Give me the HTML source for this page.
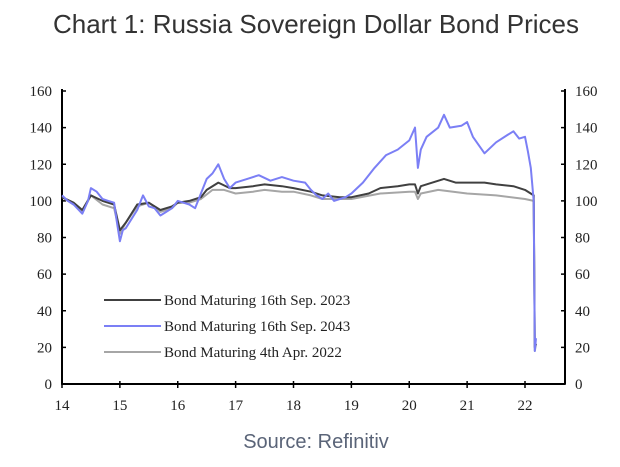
<!DOCTYPE html>
<html><head><meta charset="utf-8"><style>
body{margin:0;background:#fff;width:620px;height:462px;overflow:hidden}
svg text{font-family:"Liberation Serif",serif}
</style></head><body>
<svg id="c" width="620" height="462">
<text x="316" y="33" text-anchor="middle" style="font-family:'Liberation Sans',sans-serif;font-size:26px;fill:#333">Chart 1: Russia Sovereign Dollar Bond Prices</text>
<text x="316" y="448" text-anchor="middle" style="font-family:'Liberation Sans',sans-serif;font-size:20px;fill:#5a6478">Source: Refinitiv</text>
</svg>
<script>
const yTicks=[0,20,40,60,80,100,120,140,160];
const xTicks=[14,15,16,17,18,19,20,21,22];
const blueT=[14.0,14.1,14.2,14.35,14.45,14.5,14.6,14.7,14.8,14.9,14.95,15.0,15.05,15.1,15.2,15.3,15.4,15.5,15.6,15.7,15.8,15.9,16.0,16.1,16.2,16.3,16.4,16.5,16.6,16.7,16.8,16.9,17.0,17.2,17.4,17.6,17.8,18.0,18.2,18.3,18.4,18.5,18.6,18.7,18.8,18.9,19.0,19.2,19.4,19.6,19.8,20.0,20.1,20.15,20.2,20.3,20.5,20.6,20.7,20.9,21.0,21.1,21.3,21.5,21.7,21.8,21.9,22.0,22.05,22.1,22.15,22.17,22.19];
const blueV=[103,100,98,93,100,107,105,101,100,99,88,78,84,85,90,95,103,97,96,92,94,96,100,99,98,96,104,112,115,120,112,107,110,112,114,111,113,111,110,106,103,101,104,100,101,102,104,110,118,125,128,133,140,118,128,135,140,147,140,141,143,135,126,132,136,138,134,135,127,118,100,18,25];
const blackT=[14.0,14.2,14.35,14.5,14.7,14.9,15.0,15.1,15.3,15.5,15.7,15.9,16.0,16.2,16.4,16.5,16.7,16.9,17.0,17.3,17.5,17.8,18.0,18.3,18.5,18.8,19.0,19.3,19.5,19.8,20.0,20.1,20.15,20.2,20.4,20.6,20.8,21.0,21.3,21.5,21.8,22.0,22.15,22.17,22.19];
const blackV=[102,99,95,103,100,98,84,88,98,99,95,97,99,100,102,106,110,107,107,108,109,108,107,105,103,102,102,104,107,108,109,109,104,108,110,112,110,110,110,109,108,106,103,20,22];
const greyT=[14.0,14.2,14.35,14.5,14.7,14.9,15.0,15.1,15.3,15.5,15.7,15.9,16.0,16.2,16.4,16.6,16.8,17.0,17.3,17.5,17.8,18.0,18.3,18.5,18.8,19.0,19.5,20.0,20.1,20.15,20.2,20.5,21.0,21.5,22.0,22.15,22.17,22.19];
const greyV=[102,98,94,103,98,96,82,88,97,99,94,96,99,99,101,106,106,104,105,106,105,105,103,101,101,101,104,105,105,101,104,106,104,103,101,100,18,22];
const L=62,R=565,T=91,B=384;
const xs=v=>L+(v-14)*((525-62)/8);
const ys=v=>B-v*((B-T)/160);
const svg=document.getElementById('c');
const NS='http://www.w3.org/2000/svg';
function mk(tag,attrs){const e=document.createElementNS(NS,tag);for(const k in attrs)e.setAttribute(k,attrs[k]);svg.appendChild(e);return e;}
let a=mk('line',{x1:L,y1:T-2,x2:L,y2:B,stroke:'#000','stroke-width':2});

a=mk('line',{x1:R,y1:T-2,x2:R,y2:B,stroke:'#000','stroke-width':2});

a=mk('line',{x1:L,y1:B,x2:R,y2:B,stroke:'#000','stroke-width':2});

yTicks.forEach(v=>{
  const y=ys(v);
  let t=mk('line',{x1:L-1,y1:y,x2:L+4,y2:y,stroke:'#000','stroke-width':1.5});
  
  t=mk('line',{x1:R-4,y1:y,x2:R+1,y2:y,stroke:'#000','stroke-width':1.5});
  
  let tx=mk('text',{x:L-10,y:y+5,'text-anchor':'end','font-size':15,fill:'#222'});tx.textContent=v;
  
  tx=mk('text',{x:R+10,y:y+5,'text-anchor':'start','font-size':15,fill:'#222'});tx.textContent=v;
  
});
xTicks.forEach(v=>{
  const x=xs(v);
  let t=mk('line',{x1:x,y1:B-3,x2:x,y2:B+4,stroke:'#000','stroke-width':1.5});
  
  let tx=mk('text',{x:x,y:B+26,'text-anchor':'middle','font-size':15,fill:'#222'});tx.textContent=v;
  
});
function series(T_,V,col,name){
  const d=T_.map((t,i)=>(i?'L':'M')+xs(t).toFixed(1)+','+ys(V[i]).toFixed(1)).join('');
  const p=mk('path',{d:d,fill:'none',stroke:col,'stroke-width':2,'stroke-linejoin':'round'});
  
}
series(greyT,greyV,'#a6a6a6','series-2022-bond');
series(blackT,blackV,'#404040','series-2023-bond');
series(blueT,blueV,'#7b7ff5','series-2043-bond');
const legNames=['Bond Maturing 16th Sep. 2023','Bond Maturing 16th Sep. 2043','Bond Maturing 4th Apr. 2022'];
const legCols=['#404040','#7b7ff5','#a6a6a6'];
legNames.forEach((n,i)=>{
  const y=300+i*26;
  const l=mk('line',{x1:104,y1:y,x2:161,y2:y,stroke:legCols[i],'stroke-width':2});
  
  const tx=mk('text',{x:164,y:y+5,'font-size':15,fill:'#222'});tx.textContent=n;
  
});
</script>
</body></html>
